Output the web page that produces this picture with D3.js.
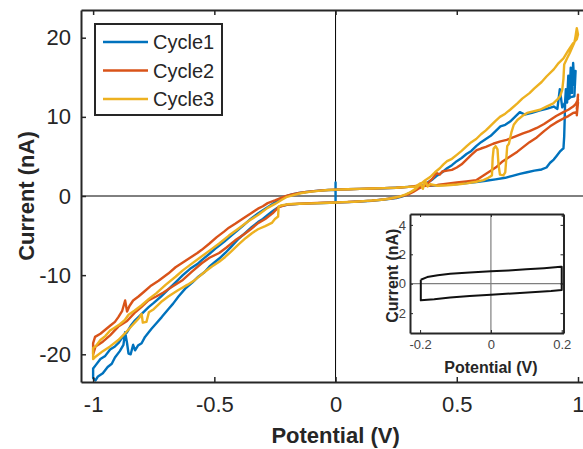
<!DOCTYPE html>
<html>
<head>
<meta charset="utf-8">
<script src="https://cdn.jsdelivr.net/npm/d3@7"></script>
<style>
  html, body { margin: 0; padding: 0; background: #fff; }
  svg { display: block; }
  text { font-family: "Liberation Sans", Arial, Helvetica, sans-serif; }
</style>
</head>
<body>
<svg id="chart" width="583" height="449"></svg>
<script>
// ---- data: potential (V), current (nA) along each sweep ----
const seriesNames = ["Cycle1", "Cycle2", "Cycle3"];
const seriesColors = ["#0072BD", "#D95319", "#EDB120"];

const cycle1 = [
  [0,-0.9],[0,1.7],[0,0.8],[0.05,0.85],[0.1,0.9],[0.15,0.93],[0.2,0.98],[0.25,1.05],[0.3,1.15],[0.34,1.25],
  [0.38,1.3],[0.42,1.35],[0.46,1.42],[0.5,1.5],[0.54,1.62],[0.58,1.75],[0.62,1.92],[0.66,2.1],[0.7,2.3],[0.73,2.55],
  [0.76,2.8],[0.79,3.0],[0.82,3.2],[0.85,3.35],[0.87,3.6],[0.885,4.2],[0.9,4.6],[0.91,5.0],[0.925,5.6],[0.935,5.9],
  [0.94,6.0],[0.943,7.5],[0.945,9.6],[0.947,12.0],[0.95,13.5],[0.955,11.8],[0.96,15.2],[0.965,12.5],[0.97,16.2],
  [0.975,13.0],[0.98,16.8],[0.985,14.0],[0.99,15.8],[0.985,12.6],[0.97,12.5],[0.95,12.0],[0.935,11.2],[0.925,13.5],
  [0.915,11.0],[0.9,11.3],[0.87,11.0],[0.84,10.8],[0.81,10.5],[0.78,10.3],[0.76,10.6],[0.74,10.0],[0.72,9.4],
  [0.7,9.0],[0.68,8.8],[0.66,8.2],[0.64,7.6],[0.62,7.2],[0.6,6.8],[0.58,6.3],[0.56,5.7],[0.54,5.3],[0.52,4.8],
  [0.5,4.4],[0.48,3.9],[0.46,3.5],[0.44,3.0],[0.42,2.6],[0.4,2.1],[0.38,1.7],[0.36,1.3],[0.34,1.0],[0.32,0.6],
  [0.3,0.3],[0.28,0.0],[0.25,-0.25],[0.2,-0.45],[0.15,-0.6],[0.1,-0.7],[0.05,-0.78],[0,-0.82],[-0.05,-0.88],
  [-0.1,-0.93],[-0.15,-1.0],[-0.2,-1.1],[-0.23,-1.3],[-0.25,-1.7],[-0.263,-2.0],[-0.28,-2.4],[-0.3,-2.9],
  [-0.32,-3.3],[-0.345,-3.9],[-0.37,-4.6],[-0.4,-5.4],[-0.43,-6.4],[-0.455,-7.2],[-0.48,-7.9],[-0.5,-8.4],
  [-0.52,-8.9],[-0.54,-9.6],[-0.566,-10.2],[-0.59,-10.9],[-0.62,-11.7],[-0.648,-12.7],[-0.67,-13.6],[-0.69,-14.3],
  [-0.717,-15.3],[-0.74,-16.1],[-0.76,-16.8],[-0.786,-17.8],[-0.8,-18.6],[-0.815,-18.9],[-0.827,-19.5],
  [-0.835,-18.8],[-0.845,-20.0],[-0.854,-19.9],[-0.86,-18.6],[-0.868,-17.2],[-0.875,-18.8],[-0.89,-19.6],
  [-0.91,-20.4],[-0.923,-21.2],[-0.94,-21.6],[-0.96,-22.4],[-0.98,-22.8],[-0.99,-23.3],[-1.0,-23.0],[-1.0,-21.8],
  [-0.99,-21.4],[-0.97,-20.6],[-0.95,-20.2],[-0.93,-19.4],[-0.91,-19.0],[-0.896,-18.6],[-0.88,-17.9],[-0.86,-17.2],
  [-0.845,-16.4],[-0.827,-15.7],[-0.81,-15.2],[-0.79,-14.6],[-0.77,-14.0],[-0.75,-13.5],[-0.72,-12.7],[-0.69,-11.8],
  [-0.66,-10.9],[-0.63,-10.0],[-0.6,-9.2],[-0.57,-8.6],[-0.552,-8.1],[-0.52,-7.3],[-0.49,-6.5],[-0.46,-5.8],
  [-0.43,-5.0],[-0.414,-4.6],[-0.38,-3.7],[-0.35,-2.9],[-0.32,-2.2],[-0.29,-1.6],[-0.26,-1.0],[-0.24,-0.6],
  [-0.22,-0.3],[-0.2,0.0],[-0.18,0.2],[-0.15,0.38],[-0.12,0.5],[-0.09,0.62],[-0.06,0.7],[-0.03,0.75],[0,0.78]
];

const cycle2 = [
  [0,0.8],[0.05,0.85],[0.1,0.9],[0.15,0.95],[0.2,1.0],[0.25,1.05],[0.3,1.15],[0.34,1.3],[0.38,1.3],[0.42,1.4],
  [0.46,1.55],[0.5,1.7],[0.54,1.85],[0.58,2.0],[0.61,2.6],[0.64,3.2],[0.665,3.7],[0.69,4.4],[0.72,5.0],[0.75,5.6],
  [0.775,6.2],[0.8,6.8],[0.83,7.4],[0.86,8.2],[0.885,8.8],[0.91,9.3],[0.94,9.8],[0.96,10.1],[0.98,10.5],[0.995,10.6],
  [1.0,11.8],[0.995,10.2],[1.0,12.8],[0.995,11.0],[1.0,12.2],[0.99,11.6],[0.98,11.3],[0.96,10.9],[0.94,10.6],
  [0.91,10.1],[0.885,9.6],[0.86,9.1],[0.83,8.6],[0.8,8.2],[0.773,7.9],[0.74,7.5],[0.706,7.1],[0.68,6.9],[0.65,6.6],
  [0.62,6.2],[0.6,6.0],[0.582,5.8],[0.56,5.2],[0.54,4.6],[0.52,4.0],[0.5,3.6],[0.48,3.3],[0.46,3.2],[0.44,3.1],
  [0.43,2.7],[0.417,2.9],[0.4,2.2],[0.38,1.6],[0.36,1.2],[0.34,0.9],[0.32,0.5],[0.3,0.2],[0.27,-0.05],[0.24,-0.25],
  [0.2,-0.42],[0.15,-0.58],[0.1,-0.68],[0.05,-0.76],[0,-0.8],[-0.05,-0.86],[-0.1,-0.92],[-0.15,-0.98],[-0.2,-1.08],
  [-0.235,-1.4],[-0.26,-2.2],[-0.29,-2.9],[-0.318,-3.4],[-0.35,-4.2],[-0.38,-4.9],[-0.414,-5.6],[-0.45,-6.5],
  [-0.48,-7.2],[-0.52,-7.8],[-0.552,-8.5],[-0.59,-9.5],[-0.63,-10.6],[-0.676,-11.5],[-0.71,-12.2],[-0.74,-12.7],
  [-0.772,-13.2],[-0.8,-14.0],[-0.83,-14.8],[-0.86,-15.8],[-0.896,-16.5],[-0.93,-17.6],[-0.96,-18.4],[-0.99,-19.0],
  [-1.0,-20.0],[-1.0,-18.6],[-0.992,-17.8],[-0.97,-17.4],[-0.95,-16.9],[-0.93,-16.4],[-0.91,-15.9],[-0.896,-15.3],
  [-0.88,-14.5],[-0.868,-13.2],[-0.86,-14.6],[-0.85,-13.9],[-0.835,-13.2],[-0.813,-12.7],[-0.79,-12.1],
  [-0.76,-11.3],[-0.73,-10.7],[-0.69,-9.8],[-0.66,-9.0],[-0.63,-8.4],[-0.6,-7.8],[-0.57,-7.2],[-0.552,-6.8],
  [-0.52,-6.0],[-0.49,-5.2],[-0.46,-4.5],[-0.44,-4.0],[-0.414,-3.5],[-0.38,-2.8],[-0.35,-2.2],[-0.32,-1.6],
  [-0.3,-1.3],[-0.28,-0.9],[-0.25,-0.55],[-0.222,-0.2],[-0.2,0.05],[-0.18,0.2],[-0.15,0.38],[-0.12,0.52],
  [-0.08,0.65],[-0.04,0.74],[0,0.8]
];

const cycle3 = [
  [0,0.8],[0.05,0.85],[0.1,0.9],[0.15,0.95],[0.2,1.0],[0.25,1.05],[0.3,1.15],[0.33,1.2],[0.35,1.6],[0.36,0.9],
  [0.37,1.9],[0.38,1.2],[0.39,1.5],[0.42,1.3],[0.46,1.35],[0.5,1.45],[0.54,1.6],[0.58,1.8],[0.61,2.0],[0.63,2.3],
  [0.645,2.6],[0.648,4.8],[0.652,6.0],[0.66,6.3],[0.668,5.9],[0.672,4.0],[0.678,2.7],[0.692,2.6],[0.7,3.0],[0.705,5.0],
  [0.708,6.3],[0.715,6.6],[0.725,8.0],[0.735,9.0],[0.75,9.6],[0.77,10.1],[0.79,10.5],[0.815,10.7],[0.843,10.9],
  [0.87,11.3],[0.898,11.7],[0.915,12.2],[0.926,12.6],[0.935,13.4],[0.94,14.8],[0.943,16.6],[0.955,17.4],
  [0.965,18.0],[0.975,18.7],[0.985,19.4],[0.99,20.2],[0.995,21.2],[1.0,20.4],[0.995,19.8],[0.98,19.3],
  [0.96,18.4],[0.94,17.4],[0.92,16.8],[0.9,16.0],[0.87,15.1],[0.85,14.4],[0.82,13.6],[0.8,13.0],[0.77,12.3],
  [0.75,11.7],[0.72,10.9],[0.7,10.4],[0.678,10.0],[0.66,9.5],[0.64,8.9],[0.62,8.3],[0.6,7.8],[0.58,7.2],
  [0.56,6.8],[0.541,6.3],[0.52,5.7],[0.5,5.2],[0.48,4.7],[0.46,4.4],[0.445,4.0],[0.43,3.5],[0.41,3.0],[0.39,2.4],
  [0.37,2.0],[0.35,1.5],[0.33,0.9],[0.31,0.5],[0.29,0.2],[0.26,-0.1],[0.22,-0.35],[0.18,-0.5],[0.13,-0.62],
  [0.08,-0.72],[0.03,-0.78],[0,-0.82],[-0.05,-0.88],[-0.1,-0.93],[-0.15,-0.98],[-0.2,-1.05],[-0.225,-1.2],
  [-0.235,-1.35],[-0.237,-2.6],[-0.25,-2.9],[-0.263,-3.4],[-0.29,-3.8],[-0.32,-4.2],[-0.345,-4.7],[-0.37,-5.3],
  [-0.4,-6.1],[-0.43,-7.0],[-0.455,-7.7],[-0.48,-8.3],[-0.51,-8.9],[-0.54,-9.6],[-0.58,-10.6],[-0.61,-11.2],
  [-0.65,-11.9],[-0.69,-12.7],[-0.72,-13.4],[-0.75,-14.3],[-0.77,-14.7],[-0.78,-15.9],[-0.795,-16.0],[-0.8,-14.9],
  [-0.81,-15.4],[-0.84,-16.4],[-0.87,-17.4],[-0.896,-18.2],[-0.93,-19.0],[-0.96,-19.6],[-0.99,-20.3],[-1.0,-20.6],
  [-1.0,-19.2],[-0.99,-19.0],[-0.97,-18.2],[-0.95,-17.7],[-0.93,-17.0],[-0.91,-16.6],[-0.89,-16.2],[-0.87,-15.7],
  [-0.854,-15.0],[-0.83,-14.5],[-0.8,-13.8],[-0.77,-13.0],[-0.74,-12.3],[-0.7,-11.2],[-0.66,-10.2],[-0.63,-9.4],
  [-0.6,-8.7],[-0.56,-7.8],[-0.52,-6.9],[-0.48,-6.0],[-0.44,-5.0],[-0.4,-4.1],[-0.36,-3.2],[-0.32,-2.4],
  [-0.28,-1.5],[-0.25,-1.0],[-0.22,-0.45],[-0.2,-0.1],[-0.17,0.15],[-0.14,0.38],[-0.1,0.55],[-0.06,0.68],
  [-0.03,0.75],[0,0.8]
];

// inset: narrow window scan (-0.2 V to 0.2 V)
const insetLoop = [
  [-0.198,0.27],[-0.18,0.45],[-0.15,0.58],[-0.115,0.68],[-0.06,0.76],[0,0.84],[0.05,0.9],[0.1,0.98],
  [0.15,1.06],[0.197,1.15],[0.2,1.15],[0.2,-0.42],[0.17,-0.5],[0.126,-0.57],[0.06,-0.66],[0,-0.75],
  [-0.06,-0.84],[-0.115,-0.93],[-0.16,-1.05],[-0.198,-1.13],[-0.198,0.27]
];

const xTicks = [-1, -0.5, 0, 0.5, 1];
const xTickLabels = ["-1", "-0.5", "0", "0.5", "1"];
const yTicks = [20, 10, 0, -10, -20];
const yTickLabels = ["20", "10", "0", "-10", "-20"];
const insetXTicks = [-0.2, 0, 0.2];
const insetXTickLabels = ["-0.2", "0", "0.2"];
const insetYTicks = [4, 2, 0, -2];
const insetYTickLabels = ["4", "2", "0", "-2"];

// ---- layout ----
const svg = d3.select("#chart");
const ink = "#262626";
const plot = { left: 81, right: 586, top: 10, bottom: 382 };

const x = d3.scaleLinear().domain([-1.05, 1.033]).range([plot.left, plot.right]);
const y = d3.scaleLinear().domain([-23.5, 23.5]).range([plot.bottom, plot.top]);

svg.append("defs").append("clipPath").attr("id", "plotClip")
  .append("rect").attr("x", plot.left).attr("y", plot.top)
  .attr("width", plot.right - plot.left).attr("height", plot.bottom - plot.top);

// zero lines
svg.append("line").attr("x1", plot.left).attr("x2", plot.right)
  .attr("y1", y(0)).attr("y2", y(0)).attr("stroke", "#000").attr("stroke-width", 1);
svg.append("line").attr("x1", x(0)).attr("x2", x(0))
  .attr("y1", plot.top).attr("y2", plot.bottom).attr("stroke", "#000").attr("stroke-width", 1);

// curves
const line = d3.line().x(d => x(d[0])).y(d => y(d[1]));
const cycles = [cycle1, cycle2, cycle3];
const curves = svg.append("g").attr("clip-path", "url(#plotClip)");
cycles.forEach((c, i) => {
  curves.append("path").datum(c).attr("d", line)
    .attr("fill", "none").attr("stroke", seriesColors[i])
    .attr("stroke-width", 2.4).attr("stroke-linejoin", "round");
});

// axes with inward ticks
const axB = d3.axisBottom(x).tickValues(xTicks).tickFormat((d, i) => xTickLabels[i])
  .tickSizeInner(-5).tickSizeOuter(0).tickPadding(14);
const gB = svg.append("g").attr("transform", `translate(0,${plot.bottom})`).call(axB);
const axT = d3.axisTop(x).tickValues(xTicks).tickFormat("").tickSizeInner(-5).tickSizeOuter(0);
const gT = svg.append("g").attr("transform", `translate(0,${plot.top})`).call(axT);
const axL = d3.axisLeft(y).tickValues(yTicks).tickFormat((d, i) => yTickLabels[i])
  .tickSizeInner(-5).tickSizeOuter(0).tickPadding(10);
const gL = svg.append("g").attr("transform", `translate(${plot.left},0)`).call(axL);
[gB, gT, gL].forEach(g => {
  g.select(".domain").attr("stroke", ink).attr("stroke-width", 2);
  g.selectAll(".tick line").attr("stroke", ink).attr("stroke-width", 1.5);
  g.selectAll(".tick text").attr("fill", ink).style("font-size", "22px")
    .style("font-family", '"Liberation Sans", Arial, sans-serif');
});
// last bottom label sits against the window edge; keep it fully inside
gB.selectAll(".tick text").filter(d => d === 1).attr("text-anchor", "end").attr("dx", "6px");

svg.append("text").attr("x", x(0)).attr("y", 443).attr("text-anchor", "middle")
  .attr("fill", ink).style("font-size", "22px").style("font-weight", "bold").text("Potential (V)");
svg.append("text").attr("transform", `translate(34,${y(0)}) rotate(-90)`).attr("text-anchor", "middle")
  .attr("fill", ink).style("font-size", "22px").style("font-weight", "bold").text("Current (nA)");

// legend
const lg = svg.append("g");
lg.append("rect").attr("x", 95).attr("y", 24).attr("width", 127).attr("height", 91)
  .attr("fill", "#fff").attr("stroke", ink).attr("stroke-width", 2);
seriesNames.forEach((name, i) => {
  const ly = 42 + i * 28.5;
  lg.append("line").attr("x1", 103).attr("x2", 148).attr("y1", ly).attr("y2", ly)
    .attr("stroke", seriesColors[i]).attr("stroke-width", 2.5);
  lg.append("text").attr("x", 153).attr("y", ly + 7).attr("fill", ink)
    .style("font-size", "20px").text(name);
});

// ---- inset ----
const ib = { left: 410, right: 563.5, top: 214, bottom: 333 };
const ix = d3.scaleLinear().domain([-0.2285, 0.205]).range([ib.left, ib.right]);
const iy = d3.scaleLinear().domain([-3.35, 4.74]).range([ib.bottom, ib.top]);
const ins = svg.append("g");
ins.append("rect").attr("x", ib.left).attr("y", ib.top)
  .attr("width", ib.right - ib.left).attr("height", ib.bottom - ib.top).attr("fill", "#fff");
ins.append("line").attr("x1", ib.left).attr("x2", ib.right).attr("y1", iy(0)).attr("y2", iy(0))
  .attr("stroke", "#7f7f7f").attr("stroke-width", 1.2);
ins.append("line").attr("x1", ix(0)).attr("x2", ix(0)).attr("y1", ib.top).attr("y2", ib.bottom)
  .attr("stroke", "#7f7f7f").attr("stroke-width", 1.2);
ins.append("path").datum(insetLoop)
  .attr("d", d3.line().x(d => ix(d[0])).y(d => iy(d[1])))
  .attr("fill", "none").attr("stroke", "#111").attr("stroke-width", 2).attr("stroke-linejoin", "round");

const iaB = d3.axisBottom(ix).tickValues(insetXTicks).tickFormat((d, i) => insetXTickLabels[i])
  .tickSizeInner(-3).tickSizeOuter(0).tickPadding(7);
const iaT = d3.axisTop(ix).tickValues(insetXTicks).tickFormat("").tickSizeInner(-3).tickSizeOuter(0);
const iaL = d3.axisLeft(iy).tickValues(insetYTicks).tickFormat((d, i) => insetYTickLabels[i])
  .tickSizeInner(-3).tickSizeOuter(0).tickPadding(4);
const iaR = d3.axisRight(iy).tickValues(insetYTicks).tickFormat("").tickSizeInner(-3).tickSizeOuter(0);
const ig = [
  ins.append("g").attr("transform", `translate(0,${ib.bottom})`).call(iaB),
  ins.append("g").attr("transform", `translate(0,${ib.top})`).call(iaT),
  ins.append("g").attr("transform", `translate(${ib.left},0)`).call(iaL),
  ins.append("g").attr("transform", `translate(${ib.right},0)`).call(iaR)
];
ig.forEach(g => {
  g.select(".domain").attr("stroke", ink).attr("stroke-width", 2);
  g.selectAll(".tick line").attr("stroke", ink).attr("stroke-width", 1);
  g.selectAll(".tick text").attr("fill", "#444").style("font-size", "13px")
    .style("font-family", '"Liberation Sans", Arial, sans-serif');
});
ins.append("text").attr("x", ix(0)).attr("y", 373).attr("text-anchor", "middle")
  .attr("fill", ink).style("font-size", "16px").style("font-weight", "bold").text("Potential (V)");
ins.append("text").attr("transform", `translate(398,${iy(0) - 8}) rotate(-90)`).attr("text-anchor", "middle")
  .attr("fill", ink).style("font-size", "16px").style("font-weight", "bold").text("Current (nA)");
</script>
</body>
</html>
